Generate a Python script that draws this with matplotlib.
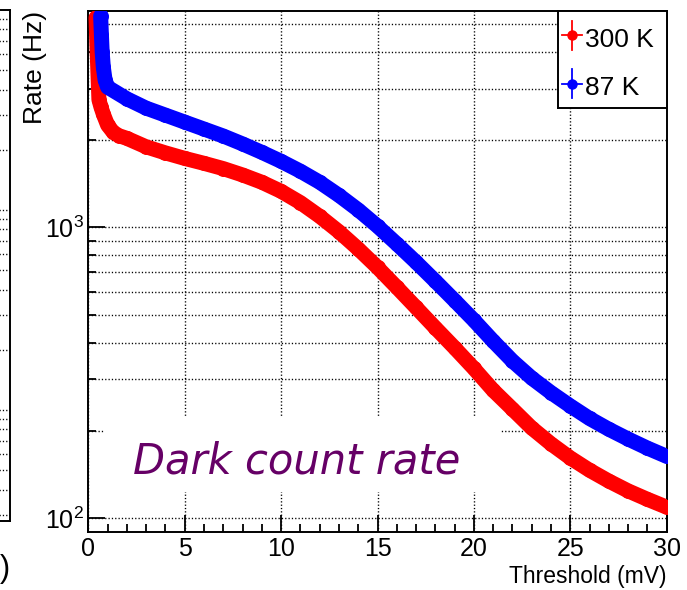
import matplotlib
matplotlib.use("Agg")
import matplotlib.pyplot as plt
from matplotlib.patches import Rectangle
from matplotlib.ticker import FixedLocator, FuncFormatter, NullFormatter
import numpy as np

# ---- data -------------------------------------------------------------
threshold_300K = [0.40, 0.45, 0.50, 0.55, 0.65, 0.78,
                  1, 1.3, 1.6, 2, 3, 4, 5, 6, 7, 8, 9, 10,
                  11, 12, 13, 14, 15, 16, 17, 18, 19, 20,
                  21, 22, 23, 24, 25, 26, 27, 28, 29, 30]
rate_300K = [5260, 4170, 3390, 2750, 2600, 2450,
             2249, 2120, 2065, 2023, 1892, 1803, 1726, 1660, 1592, 1514, 1429, 1330,
             1216, 1091, 966, 843, 728, 622, 530, 451, 385, 327,
             275, 237, 204, 180, 161, 146, 134, 124, 116, 109]

threshold_87K = [0.64, 0.68, 0.72, 0.78, 0.87,
                 1, 2, 3, 4, 5, 6, 7, 8, 9, 10,
                 11, 12, 13, 14, 15, 16, 17, 18, 19, 20,
                 21, 22, 23, 24, 25, 26, 27, 28, 29, 30]
rate_87K = [5330, 4600, 4000, 3550, 3215,
            3034, 2767, 2570, 2432, 2301, 2178, 2061, 1936, 1811, 1687,
            1560, 1429, 1288, 1148, 1009, 877, 759, 653, 560, 479,
            406, 347, 303, 270, 243, 220, 202, 187, 174, 163]

series_labels = ["300 K", "87 K"]
series_colors = ["#ff0000", "#0000ff"]

x_major = [0, 5, 10, 15, 20, 25, 30]
x_title = "Threshold (mV)"
y_title = "Rate (Hz)"
note_text = "Dark count rate"

# ---- style ------------------------------------------------------------
SANS = ["Liberation Sans", "DejaVu Sans"]
plt.rcParams["font.family"] = SANS
plt.rcParams["mathtext.fontset"] = "custom"
plt.rcParams["mathtext.rm"] = "Liberation Sans"
DOTS = (0, (0.9, 1.5))
GRID_KW = dict(color="black", linestyle=DOTS, linewidth=1.0)

W, H = 687, 590
fig = plt.figure(figsize=(W / 100, H / 100), dpi=100)
fig.patch.set_facecolor("white")


def px_box(x0, y0, x1, y1):
    """Figure-fraction rectangle from pixel corners (top-left origin)."""
    return [x0 / W, 1 - y1 / H, (x1 - x0) / W, (y1 - y0) / H]


# ---- neighbouring panel (only its right edge is in view) --------------
axl = fig.add_axes(px_box(-300, 10, 10, 521))
axl.set_yscale("log")
axl.set_ylim(27.9, 1e4)
axl.set_xlim(0, 1)
axl.yaxis.set_major_locator(FixedLocator([100, 1000]))
axl.yaxis.set_minor_locator(FixedLocator([m * 10 ** e for e in range(1, 4) for m in range(2, 10)]))
axl.grid(True, which="both", axis="y", **GRID_KW)
axl.tick_params(left=False, bottom=False, which="both", labelleft=False, labelbottom=False)
for s in axl.spines.values():
    s.set_linewidth(1.4)
fig.text(10.5 / W, 1 - 577 / H, x_title, ha="right", va="baseline", fontsize=22)

# ---- main panel -------------------------------------------------------
ax = fig.add_axes(px_box(88.3, 10.7, 666.7, 531.7))
ax.set_yscale("log")
ax.set_xlim(0, 30)
ax.set_ylim(89.75, 5560)

ax.xaxis.set_major_locator(FixedLocator(x_major))
ax.xaxis.set_minor_locator(FixedLocator([v for v in range(0, 31) if v % 5]))
ax.yaxis.set_major_locator(FixedLocator([100, 1000]))
ax.yaxis.set_minor_locator(FixedLocator([m * 10 ** e for e in (2, 3) for m in range(2, 10)]))
ax.yaxis.set_major_formatter(FuncFormatter(lambda v, p: r"$\mathregular{10^{%d}}$" % round(np.log10(v))))
ax.yaxis.set_minor_formatter(NullFormatter())

ax.tick_params(which="both", direction="in", top=False, right=False, width=1.3,
               labelsize=18, color="black")
ax.tick_params(which="major", length=12)
ax.tick_params(which="minor", length=6)
ax.tick_params(axis="x", pad=4)
ax.tick_params(axis="y", pad=3)
for s in ax.spines.values():
    s.set_linewidth(1.4)

# dotted grid at every y tick and at the major x ticks
ax.grid(True, which="both", axis="y", zorder=0, **GRID_KW)
ax.grid(True, which="major", axis="x", zorder=0, **GRID_KW)
ax.set_axisbelow(True)

# white pad behind the annotation
ax.add_patch(Rectangle((0.029, 0.0762), 0.683, 0.1438, transform=ax.transAxes,
                       facecolor="white", edgecolor="none", zorder=1.5))
ax.text((133 - 88.3) / 578.4, (531.7 - 473) / 521, note_text, transform=ax.transAxes,
        fontsize=30, family="DejaVu Sans", style="italic", color="#660066",
        ha="left", va="baseline", zorder=2)

# measured curves: a dense run of round markers
for xs, ys, c in ((threshold_300K, rate_300K, series_colors[0]),
                  (threshold_87K, rate_87K, series_colors[1])):
    ax.plot(xs, ys, color=c, lw=10.8, solid_capstyle="round", solid_joinstyle="round",
            marker="o", ms=10.8, mew=0, mfc=c, zorder=3, clip_on=True)

# axis titles
fig.text(666.7 / W, 1 - 583 / H, x_title, ha="right", va="baseline", fontsize=16.5)
fig.text(35 / W, 1 - 11 / H, y_title, ha="center", va="top", rotation=90, fontsize=19)

# ---- legend box -------------------------------------------------------
lg = fig.add_axes(px_box(558, 10.7, 666.7, 108))
lg.set_xlim(0, 108.7)
lg.set_ylim(97.3, 0)
lg.set_xticks([])
lg.set_yticks([])
lg.set_facecolor("white")
for s in lg.spines.values():
    s.set_linewidth(1.4)
for (cy, base), lab, c in zip(((35.3 - 10.7, 46.7 - 10.7), (83.5 - 10.7, 95 - 10.7)),
                              series_labels, series_colors):
    mx = 571.7 - 558
    lg.plot([mx - 10, mx + 10], [cy, cy], color=c, lw=1.3)
    lg.plot([mx, mx], [cy - 14.5, cy + 14.5], color=c, lw=1.3)
    lg.plot([mx], [cy], marker="o", ms=6.5, color=c)
    lg.text(585 - 558, base, lab, ha="left", va="baseline", fontsize=19)

fig.savefig("out.png", dpi=100, facecolor="white")
